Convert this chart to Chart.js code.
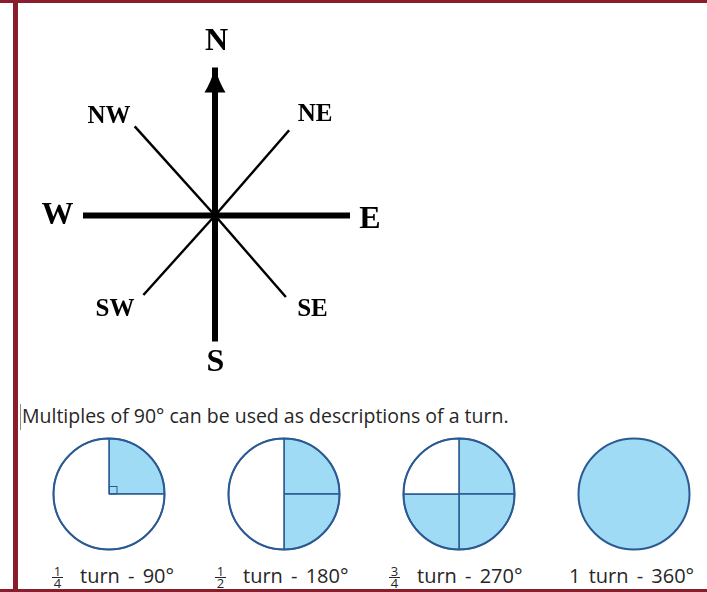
<!DOCTYPE html>
<html>
<head>
<meta charset="utf-8">
<title>Compass and turns</title>
<script src="https://cdn.jsdelivr.net/npm/chart.js@4.4.1/dist/chart.umd.min.js"></script>
<style>
  html, body { margin: 0; padding: 0; background: #fff; }
  #page { position: relative; width: 707px; height: 592px; overflow: hidden; background: #fff;
          font-family: 'Open Sans', sans-serif; color: #262626; }
  .edge { position: absolute; background: #8A1D2B; z-index: 5; }
  canvas { position: absolute; }
  #intro { position: absolute; left: 22px; top: 406px; font-size: 19.5px; line-height: 19.5px; white-space: nowrap; }
  #tick { position: absolute; left: 20px; top: 404px; width: 1px; height: 26px; background: #8c8c8c; }
  .lbl { position: absolute; top: 566px; font-size: 20px; line-height: 20px; word-spacing: 3px; white-space: nowrap; }
  .frac { position: absolute; left: -28px; top: 0; width: 11px; font-size: 13px; text-align: center; word-spacing: 0; }
  .frac span { display: block; line-height: 11px; }
  .frac .num { border-bottom: 1px solid #262626; }
</style>
</head>
<body>
<div id="page">
  <canvas id="compass" width="430" height="400" style="left:0;top:0;"></canvas>
  <div id="tick"></div>
  <div id="intro">Multiples of 90° can be used as descriptions of a turn.</div>
  <div class="edge" style="left:0;top:0;width:707px;height:3px;"></div>
  <div class="edge" style="left:13px;top:0;width:5px;height:592px;"></div>
  <div class="edge" style="left:0;top:589px;width:707px;height:3px;"></div>
</div>
<script>
// ---- compass data ----
const directions = ['N', 'NE', 'E', 'SE', 'S', 'SW', 'W', 'NW'];
const bearings = [0, 41, 90, 139, 180, 222, 270, 318];      // degrees clockwise from north
const armLengths = [148, 113, 135, 108, 126, 107, 132, 120];

// ---- turn data ----
const turnQuarters = [1, 2, 3, 4];
const turnNumerators = ['1', '1', '3', ''];
const turnDenominators = ['4', '2', '4', ''];
const turnWholes = ['', '', '', '1'];
const turnDegrees = [90, 180, 270, 360];

const BLUE = '#A0DBF6';
const NAVY = '#2B5A92';
const CENTER = { x: 215, y: 215.5 };
const CW = 430, CH = 400;

// arrow head on N + the direction letters
const compassMarks = {
  id: 'compassMarks',
  afterDatasetsDraw(chart, args, opts) {
    const { ctx, scales: { x, y } } = chart;
    const tip = chart.getDatasetMeta(directions.indexOf('N')).data[1];
    const hw = opts.arrowHalfWidth, h = opts.arrowHeight;
    ctx.save();
    ctx.fillStyle = '#000';
    ctx.beginPath();
    ctx.moveTo(tip.x, tip.y);
    ctx.quadraticCurveTo(tip.x - hw * 0.35, tip.y + h * 0.55, tip.x - hw, tip.y + h);
    ctx.lineTo(tip.x + hw, tip.y + h);
    ctx.quadraticCurveTo(tip.x + hw * 0.35, tip.y + h * 0.55, tip.x, tip.y);
    ctx.fill();

    const cx = x.getPixelForValue(0), cy = y.getPixelForValue(0);
    ctx.textAlign = 'center';
    ctx.textBaseline = 'middle';
    directions.forEach(d => {
      const o = opts.labelOffsets[d];
      ctx.font = d.length === 1 ? opts.bigFont : opts.smallFont;
      ctx.fillText(d, cx + o[0], cy + o[1]);
    });
    ctx.restore();
  }
};

new Chart(document.getElementById('compass'), {
  type: 'scatter',
  data: {
    datasets: directions.map((d, i) => {
      const a = bearings[i] * Math.PI / 180;
      return {
        label: d,
        data: [{ x: 0, y: 0 }, { x: armLengths[i] * Math.sin(a), y: armLengths[i] * Math.cos(a) }],
        showLine: true,
        borderColor: '#000',
        borderWidth: d.length === 1 ? 6 : 2.5,
        borderCapStyle: 'butt',
        pointRadius: 0,
        order: d.length === 1 ? 0 : 1
      };
    })
  },
  options: {
    responsive: false,
    animation: false,
    events: [],
    layout: { padding: 0 },
    scales: {
      x: { display: false, min: -CENTER.x, max: CW - CENTER.x },
      y: { display: false, min: -(CH - CENTER.y), max: CENTER.y }
    },
    plugins: {
      legend: { display: false },
      tooltip: { enabled: false },
      compassMarks: {
        arrowHalfWidth: 10.5,
        arrowHeight: 25,
        bigFont: 'bold 32px "Liberation Serif", serif',
        smallFont: 'bold 25px "Liberation Serif", serif',
        labelOffsets: {
          N: [1.5, -174], NE: [100, -101], E: [155, 4.5], SE: [97.5, 94],
          S: [0.5, 147], SW: [-100, 94.5], W: [-157.5, 0.5], NW: [-106, -99]
        }
      }
    }
  },
  plugins: [compassMarks]
});

// outer ring + right-angle mark on the turn pies
const turnOutline = {
  id: 'turnOutline',
  afterDatasetsDraw(chart, args, opts) {
    const arc = chart.getDatasetMeta(0).data[0];
    const { x, y, outerRadius } = arc.getProps(['x', 'y', 'outerRadius'], true);
    const ctx = chart.ctx;
    ctx.save();
    ctx.strokeStyle = NAVY;
    ctx.lineWidth = opts.width;
    ctx.beginPath();
    ctx.arc(x, y, outerRadius, 0, Math.PI * 2);
    ctx.stroke();
    if (opts.rightAngle) {
      ctx.lineWidth = 1;
      ctx.strokeRect(x + 0.5, y - opts.rightAngle, opts.rightAngle, opts.rightAngle);
    }
    ctx.restore();
  }
};

const page = document.getElementById('page');
const pieCenters = [109, 284, 459, 634];
const labelLeft = [80, 243, 417, 569];
const PIE_Y = 494, BOX = 130;

turnQuarters.forEach((q, i) => {
  const values = Array(q).fill(1);
  if (q < 4) values.push(4 - q);

  const cv = document.createElement('canvas');
  cv.width = BOX; cv.height = BOX;
  cv.style.left = (pieCenters[i] - BOX / 2) + 'px';
  cv.style.top = (PIE_Y - BOX / 2) + 'px';
  page.appendChild(cv);

  new Chart(cv, {
    type: 'pie',
    data: {
      labels: values.map((_, k) => k < q ? 'turned' : 'left'),
      datasets: [{
        data: values,
        backgroundColor: values.map((_, k) => k < q ? BLUE : '#fff'),
        borderColor: NAVY,
        borderWidth: q < 4 ? 1.5 : 0,
        hoverOffset: 0,
        radius: 55.5
      }]
    },
    options: {
      responsive: false,
      animation: false,
      events: [],
      layout: { padding: 0 },
      plugins: {
        legend: { display: false },
        tooltip: { enabled: false },
        turnOutline: { width: 2, rightAngle: q === 1 ? 7.5 : 0 }
      }
    },
    plugins: [turnOutline]
  });

  const lbl = document.createElement('div');
  lbl.className = 'lbl';
  lbl.style.left = labelLeft[i] + 'px';
  let html = '';
  if (turnNumerators[i]) {
    html += `<span class="frac"><span class="num">${turnNumerators[i]}</span><span class="den">${turnDenominators[i]}</span></span>`;
  }
  html += (turnWholes[i] ? turnWholes[i] + ' ' : '') + `turn - ${turnDegrees[i]}°`;
  lbl.innerHTML = html;
  page.appendChild(lbl);
});
</script>
</body>
</html>
